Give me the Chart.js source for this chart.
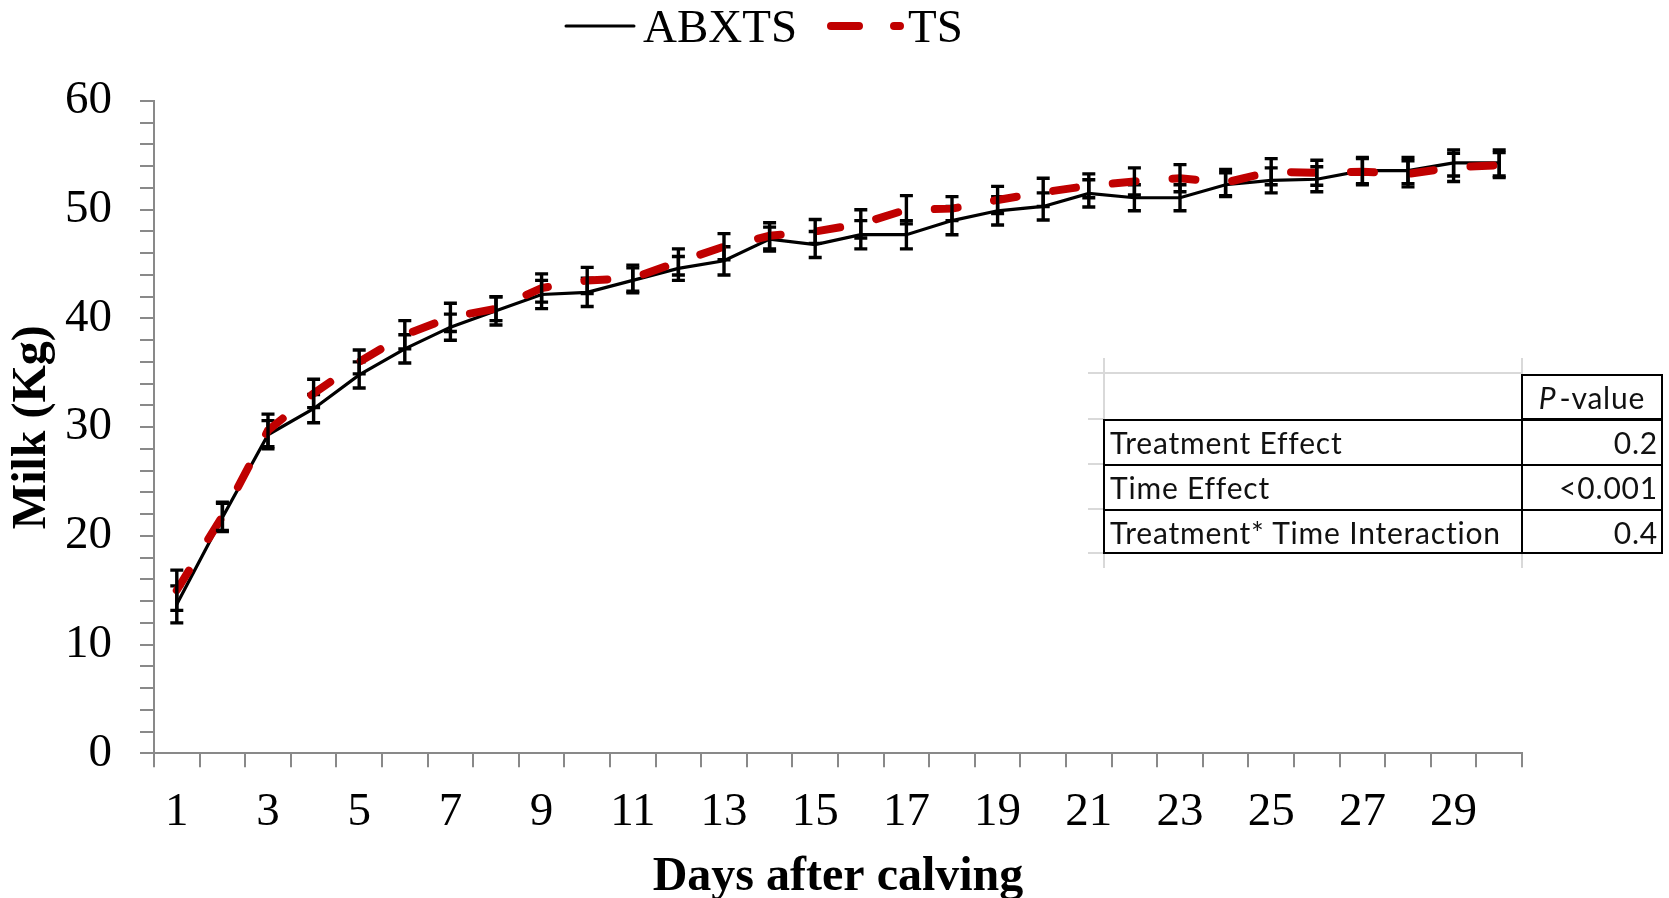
<!DOCTYPE html>
<html>
<head>
<meta charset="utf-8">
<title>Milk after calving</title>
<script src="https://cdn.jsdelivr.net/npm/chart.js@4.4.1/dist/chart.umd.min.js"></script>
<style>
  html, body { margin: 0; padding: 0; background: #fff; }
  #wrap { position: relative; width: 1669px; height: 898px; }
  #chart { position: absolute; left: 0; top: 0; }
  .cell { position: absolute; font-family: Lato, "Open Sans", sans-serif; font-size: 30px; letter-spacing: 0.8px; color: #111; white-space: nowrap; box-sizing: border-box; }
  .gray { position: absolute; background: #d9d9d9; }
  .box { position: absolute; box-sizing: border-box; border: 2px solid #000; }
  .blk { position: absolute; background: #000; }
</style>
</head>
<body>
<div id="wrap">
  <canvas id="chart" width="1669" height="898"></canvas>
  <div id="table"></div>
</div>
<script>
// days after calving
const days = [1, 2, 3, 4, 5, 6, 7, 8, 9, 10, 11, 12, 13, 14, 15, 16, 17, 18, 19, 20,
  21, 22, 23, 24, 25, 26, 27, 28, 29, 30];

// milk (kg), means and standard errors
const abxts = [13.7, 21.7, 29.3, 31.7, 34.8, 37.2, 39.2, 40.7, 42.2, 42.4, 43.5, 44.6, 45.3, 47.3, 46.8,
  47.7, 47.7, 49.0, 49.9, 50.3, 51.5, 51.1, 51.1, 52.3, 52.7, 52.8, 53.6, 53.6, 54.3, 54.3];
const abxtsSE = [1.7, 1.3, 1.3, 1.3, 1.2, 1.3, 1.2, 1.3, 1.3, 1.3, 1.15, 1.1, 1.3, 1.1, 1.2,
  1.3, 1.3, 1.3, 1.3, 1.25, 1.25, 1.2, 1.2, 1.1, 1.15, 1.15, 1.2, 1.2, 1.2, 1.2];

const ts = [15.0, 21.8, 29.7, 33.1, 36.0, 38.5, 40.1, 40.9, 42.8, 43.5, 43.7, 45.2, 46.6, 47.6, 48.0,
  48.7, 50.0, 50.1, 50.9, 51.6, 52.2, 52.6, 52.9, 52.5, 53.5, 53.4, 53.5, 53.3, 53.9, 54.1];
const tsSE = [1.85, 1.3, 1.5, 1.3, 1.1, 1.3, 1.3, 1.1, 1.3, 1.2, 1.2, 1.2, 1.2, 1.2, 1.1,
  1.3, 1.3, 1.1, 1.25, 1.3, 1.1, 1.25, 1.25, 1.2, 1.2, 1.15, 1.2, 1.2, 1.3, 1.15];

// p-value table
const effects = ['Treatment Effect', 'Time Effect', 'Treatment* Time Interaction'];
const pValues = ['0.2', '<0.001', '0.4'];

const axisGray = '#898989';
const serif = '"Liberation Serif", "Times New Roman", serif';
Chart.defaults.font.family = serif;
Chart.defaults.color = '#000';

const errors = [abxtsSE, tsSE];

// vertical error bars with caps, drawn through the y scale
const errorBars = {
  id: 'errorBars',
  afterDatasetDraw(chart, args) {
    const se = errors[args.index];
    const y = chart.scales.y;
    const c = chart.ctx;
    const vals = chart.data.datasets[args.index].data;
    c.save();
    c.strokeStyle = '#000';
    c.lineWidth = 3.4;
    args.meta.data.forEach((pt, i) => {
      const top = y.getPixelForValue(vals[i] + se[i]);
      const bot = y.getPixelForValue(vals[i] - se[i]);
      c.beginPath();
      c.moveTo(pt.x, top); c.lineTo(pt.x, bot);
      c.moveTo(pt.x - 6.5, top); c.lineTo(pt.x + 6.5, top);
      c.moveTo(pt.x - 6.5, bot); c.lineTo(pt.x + 6.5, bot);
      c.stroke();
    });
    c.restore();
  }
};

// legend at the top, placed like the original
const legendLine = {
  id: 'legendLine',
  afterDraw(chart) {
    const c = chart.ctx;
    const ds = chart.data.datasets;
    c.save();
    c.lineCap = 'round';
    c.strokeStyle = ds[0].borderColor;
    c.lineWidth = 3;
    c.beginPath(); c.moveTo(566, 26); c.lineTo(634, 26); c.stroke();
    c.strokeStyle = ds[1].borderColor;
    c.lineWidth = 8;
    c.setLineDash([28, 35]);
    c.beginPath(); c.moveTo(831, 26); c.lineTo(900, 26); c.stroke();
    c.setLineDash([]);
    c.fillStyle = '#000';
    c.font = '47px ' + serif;
    c.fillText(ds[0].label, 643, 42);
    c.fillText(ds[1].label, 908, 42);
    c.restore();
  }
};

new Chart(document.getElementById('chart'), {
  type: 'line',
  data: {
    labels: days,
    datasets: [
      {label: 'ABXTS', data: abxts, borderColor: '#000', borderWidth: 3.2, pointRadius: 0, order: 2},
      {label: 'TS', data: ts, borderColor: '#C00000', borderWidth: 8, borderDash: [23, 37],
        borderCapStyle: 'round', pointRadius: 0, order: 1}
    ]
  },
  options: {
    responsive: false,
    animation: false,
    layout: {padding: {left: 0, top: 101, right: 147, bottom: 0}},
    plugins: {legend: {display: false}, tooltip: {enabled: false}},
    scales: {
      x: {
        offset: true,
        border: {color: axisGray, width: 2},
        grid: {offset: true, drawOnChartArea: false, tickLength: 14, color: axisGray, lineWidth: 2},
        ticks: {
          autoSkip: false, maxRotation: 0, padding: 17, font: {size: 47},
          callback: (v, i) => i % 2 === 0 ? days[i] : ''
        },
        title: {display: true, text: 'Days after calving', font: {size: 48, weight: 'bold', lineHeight: 0.86}, padding: 0},
        afterFit: s => { s.height = 144.7; }
      },
      y: {
        min: 0, max: 60,
        border: {color: axisGray, width: 2},
        grid: {drawOnChartArea: false, tickLength: 14, color: axisGray, lineWidth: 2},
        ticks: {
          stepSize: 2, autoSkip: false, padding: 28, font: {size: 47},
          callback: v => v % 10 === 0 ? v : ''
        },
        title: {display: true, text: 'Milk (Kg)', font: {size: 48, weight: 'bold'}, padding: {top: 4, bottom: 0}},
        afterFit: s => { s.width = 154; }
      }
    }
  },
  plugins: [errorBars, legendLine]
});

// the pasted Excel table
const table = document.getElementById('table');
const L = 1103, D = 1521, R = 1663;
const rowTop = [374, 419, 464, 509, 553];

function add(cls, x, y, w, h, html) {
  const d = document.createElement('div');
  d.className = cls;
  d.style.left = x + 'px'; d.style.top = y + 'px';
  d.style.width = w + 'px'; d.style.height = h + 'px';
  if (html !== undefined) d.innerHTML = html;
  table.appendChild(d);
  return d;
}

// light grid lines of the sheet
add('gray', 1088, rowTop[0] - 2, D - 1088, 2);
rowTop.slice(1).forEach(y => add('gray', 1088, y - 1, L - 1088, 2));
add('gray', L, 358, 2, rowTop[1] - 358);
add('gray', L, rowTop[4], 2, 15);
add('gray', D, 358, 2, 16);
add('gray', D, rowTop[4], 2, 15);

// black borders
add('box', D, rowTop[0], R - D, rowTop[1] - rowTop[0] + 1);
add('box', L, rowTop[1], R - L, rowTop[4] - rowTop[1] + 1);
add('blk', L, rowTop[2], R - L, 2);
add('blk', L, rowTop[3], R - L, 2);
add('blk', D, rowTop[1], 2, rowTop[4] - rowTop[1]);

// texts
const head = add('cell', D, rowTop[0], R - D, 45, '<i style="margin-right:3px">P</i>-value');
head.style.textAlign = 'center';
head.style.lineHeight = '45px';
head.style.paddingTop = '1px';
effects.forEach((t, i) => {
  const a = add('cell', L + 7, rowTop[i + 1], D - L - 7, 45);
  a.textContent = t;
  a.style.lineHeight = '45px';
  a.style.paddingTop = '1px';
  const b = add('cell', D, rowTop[i + 1], R - D - 5, 45);
  b.textContent = pValues[i];
  b.style.textAlign = 'right';
  b.style.lineHeight = '45px';
  b.style.paddingTop = '1px';
});
</script>
</body>
</html>
